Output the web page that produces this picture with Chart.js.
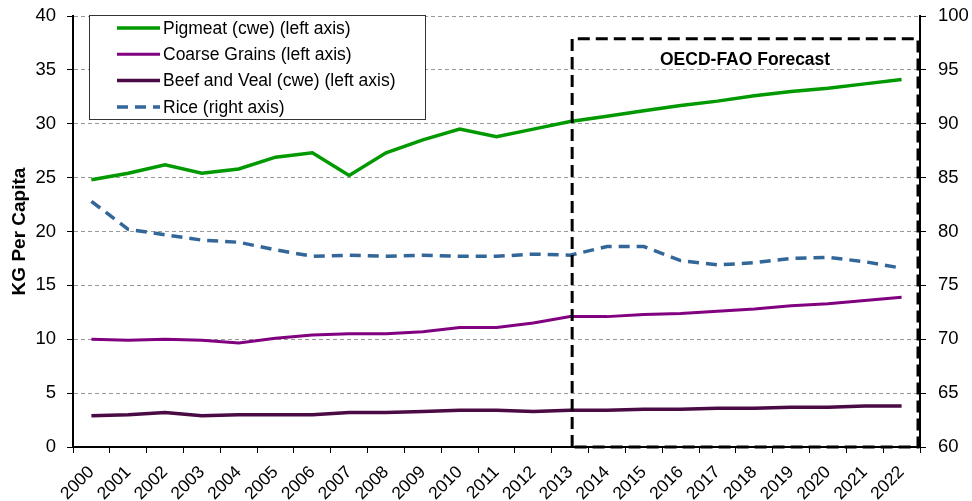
<!DOCTYPE html>
<html>
<head>
<meta charset="utf-8">
<script src="https://cdn.jsdelivr.net/npm/chart.js@4.4.1/dist/chart.umd.min.js"></script>
<style>
  html, body { margin: 0; padding: 0; background: #fff; }
  #chart { display: block; }
</style>
</head>
<body>
<canvas id="chart" width="972" height="501"></canvas>
<script>
// ---------------- DATA ----------------
const years = ["2000", "2001", "2002", "2003", "2004", "2005", "2006", "2007", "2008", "2009", "2010", "2011",
    "2012", "2013", "2014", "2015", "2016", "2017", "2018", "2019", "2020", "2021", "2022"];

const pigmeat = [24.8, 25.4, 26.2, 25.4, 25.8, 26.9, 27.3, 25.2, 27.3, 28.5, 29.5, 28.8,
    29.5, 30.2, 30.7, 31.2, 31.7, 32.1, 32.6, 33.0, 33.3, 33.7, 34.1];

const coarseGrains = [10.0, 9.9, 10.0, 9.9, 9.65, 10.1, 10.4, 10.5, 10.5, 10.7, 11.1, 11.1,
    11.5, 12.1, 12.1, 12.3, 12.4, 12.6, 12.8, 13.1, 13.3, 13.6, 13.9];

const beefVeal = [2.9, 3.0, 3.2, 2.9, 3.0, 3.0, 3.0, 3.2, 3.2, 3.3, 3.4, 3.4,
    3.3, 3.4, 3.4, 3.5, 3.5, 3.6, 3.6, 3.7, 3.7, 3.8, 3.8];

// right axis
const rice = [82.8, 80.2, 79.7, 79.2, 79.0, 78.3, 77.7, 77.8, 77.7, 77.8, 77.7, 77.7,
    77.9, 77.8, 78.6, 78.6, 77.3, 76.9, 77.1, 77.5, 77.6, 77.2, 76.6];

const leftAxis = { min: 0, max: 40, step: 5 };
const rightAxis = { min: 60, max: 100, step: 5 };

// forecast box starts at this year, top at this left-axis value
const forecastStart = "2013";
const forecastTop = 37.9;
const forecastText = "OECD-FAO Forecast";

// ---------------- PLUGINS ----------------
const forecastBox = {
    id: "forecastBox",
    afterDraw(chart) {
        const { ctx, chartArea, scales } = chart;
        const x0 = scales.x.getPixelForValue(years.indexOf(forecastStart)) + 2;
        const x1 = chartArea.right - 2;
        const y0 = scales.y.getPixelForValue(forecastTop);
        const y1 = chartArea.bottom;

        ctx.save();
        ctx.strokeStyle = "#000";
        ctx.lineWidth = 3;
        ctx.setLineDash([12, 6]);
        ctx.beginPath();
        ctx.moveTo(x0, y1);
        ctx.lineTo(x0, y0);
        ctx.lineTo(x1, y0);
        ctx.lineTo(x1, y1);
        ctx.lineTo(x0, y1);
        ctx.stroke();

        ctx.setLineDash([]);
        ctx.fillStyle = "#000";
        ctx.font = "bold 17.5px 'Liberation Sans', Arial, sans-serif";
        ctx.textAlign = "center";
        ctx.textBaseline = "middle";
        ctx.fillText(forecastText, (x0 + x1) / 2, y0 + 22);
        ctx.restore();
    }
};

const boxLegend = {
    id: "boxLegend",
    afterDraw(chart) {
        const { ctx, chartArea } = chart;
        const left = chartArea.left + 16, top = chartArea.top - 1;
        const w = 336, h = 104;

        ctx.save();
        ctx.fillStyle = "#fff";
        ctx.fillRect(left, top, w, h);
        ctx.strokeStyle = "#333";
        ctx.lineWidth = 1;
        ctx.strokeRect(left + 0.5, top + 0.5, w, h);

        ctx.font = "17.5px 'Liberation Sans', Arial, sans-serif";
        ctx.textBaseline = "middle";
        ctx.textAlign = "left";

        chart.data.datasets.forEach((ds, i) => {
            const y = top + 13 + i * 26.3;
            ctx.strokeStyle = ds.borderColor;
            ctx.lineWidth = ds.borderWidth;
            ctx.setLineDash(ds.borderDash || []);
            ctx.beginPath();
            ctx.moveTo(left + 28, y);
            ctx.lineTo(left + 71, y);
            ctx.stroke();
            ctx.setLineDash([]);
            ctx.fillStyle = "#000";
            ctx.fillText(ds.label, left + 74, y + 1);
        });
        ctx.restore();
    }
};

// ---------------- CHART ----------------
const font = "'Liberation Sans', Arial, sans-serif";

function fixVertical(width) {
    return s => {
        s.width = width;
        s.paddingTop = 0;
        s.paddingBottom = 0;
    };
}

new Chart(document.getElementById("chart").getContext("2d"), {
    type: "line",
    data: {
        labels: years,
        datasets: [
            { label: "Pigmeat (cwe) (left axis)", data: pigmeat, yAxisID: "y",
              borderColor: "#009900", borderWidth: 3.5 },
            { label: "Coarse Grains (left axis)", data: coarseGrains, yAxisID: "y",
              borderColor: "#800080", borderWidth: 3 },
            { label: "Beef and Veal (cwe) (left axis)", data: beefVeal, yAxisID: "y",
              borderColor: "#4a0a44", borderWidth: 3.5 },
            { label: "Rice (right axis)", data: rice, yAxisID: "y1",
              borderColor: "#336699", borderWidth: 3.5, borderDash: [11, 7] }
        ]
    },
    options: {
        responsive: false,
        animation: false,
        devicePixelRatio: 1,
        layout: { padding: { top: 16, left: 0, right: 0, bottom: 0 } },
        elements: {
            point: { radius: 0 },
            line: { tension: 0, fill: false }
        },
        plugins: {
            legend: { display: false },
            tooltip: { enabled: false }
        },
        scales: {
            x: {
                offset: true,
                grid: { offset: true, drawOnChartArea: false, tickLength: 6, color: "#000", lineWidth: 1 },
                border: { color: "#000", width: 2 },
                ticks: {
                    minRotation: 45, maxRotation: 45, color: "#000", padding: 9,
                    font: { family: font, size: 17.5 }
                },
                afterFit: s => { s.height = 54; s.paddingLeft = 0; s.paddingRight = 0; }
            },
            y: {
                position: "left",
                min: leftAxis.min, max: leftAxis.max,
                ticks: { stepSize: leftAxis.step, color: "#000", padding: 11,
                         font: { family: font, size: 18.5 } },
                grid: { color: "#999", tickColor: "#000", tickLength: 6, lineWidth: 1 },
                border: { color: "#000", width: 2, dash: [4, 3] },
                title: { display: true, text: "KG Per Capita", color: "#000",
                         font: { family: font, size: 19, weight: "bold" },
                         padding: { top: 8, bottom: 0 } },
                afterFit: fixVertical(73)
            },
            y1: {
                position: "right",
                min: rightAxis.min, max: rightAxis.max,
                ticks: { stepSize: rightAxis.step, color: "#000", padding: 12,
                         font: { family: font, size: 18.5 } },
                grid: { drawOnChartArea: false, tickColor: "#000", tickLength: 6 },
                border: { color: "#000", width: 2 },
                afterFit: fixVertical(52)
            }
        }
    },
    plugins: [boxLegend, forecastBox]
});
</script>
</body>
</html>
